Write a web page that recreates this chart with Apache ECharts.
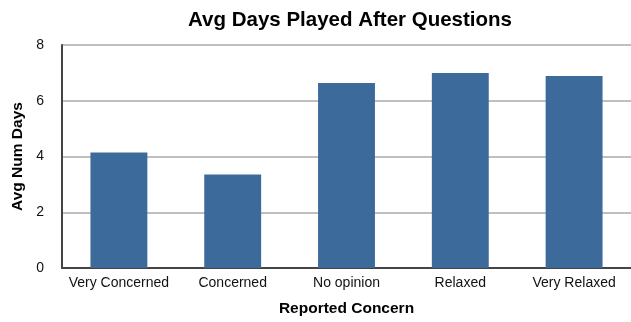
<!DOCTYPE html>
<html><head><meta charset="utf-8">
<script src="https://cdn.jsdelivr.net/npm/echarts@6/dist/echarts.min.js"></script>
<style>html,body{margin:0;padding:0;background:#fff}#c{width:631px;height:322px}</style>
</head><body><div id="c"></div>
<script>
const categories = ["Very Concerned", "Concerned", "No opinion", "Relaxed", "Very Relaxed"];
const avgDays = [4.14, 3.35, 6.64, 7.0, 6.89];
const yTicks = [0, 2, 4, 6, 8];

const chart = echarts.init(document.getElementById('c'), null, {renderer: 'canvas'});
chart.setOption({
  animation: false,
  title: {
    text: "Avg Days Played After Questions",
    left: 345, top: 5, textAlign: 'center',
    textStyle: {fontFamily: 'Liberation Sans', fontWeight: 'bold', fontSize: 20.5, color: '#000'}
  },
  grid: {left: 62, right: 0, top: 45, bottom: 54},
  xAxis: {
    type: 'category', data: categories,
    name: "Reported Concern", nameLocation: 'middle', nameGap: 33,
    nameTextStyle: {fontFamily: 'Liberation Sans', fontWeight: 'bold', fontSize: 15.5, color: '#000'},
    axisLine: {lineStyle: {color: '#444', width: 2}},
    axisTick: {show: false},
    axisLabel: {interval: 0, fontFamily: 'Liberation Sans', fontSize: 14, color: '#111', margin: 8}
  },
  yAxis: {
    type: 'value', min: yTicks[0], max: yTicks[yTicks.length - 1], interval: 2,
    name: "Avg Num Days", nameLocation: 'middle', nameGap: 35,
    nameTextStyle: {fontFamily: 'Liberation Sans', fontWeight: 'bold', fontSize: 15.5, color: '#000'},
    axisLine: {show: true, lineStyle: {color: '#444', width: 2}},
    axisTick: {show: false},
    axisLabel: {fontFamily: 'Liberation Sans', fontSize: 14, color: '#111', margin: 18},
    splitLine: {lineStyle: {color: '#aaa', width: 1.5}}
  },
  series: [{
    type: 'bar', data: avgDays, barWidth: '50%',
    itemStyle: {color: '#3c6a9a'}
  }]
});
</script></body></html>
